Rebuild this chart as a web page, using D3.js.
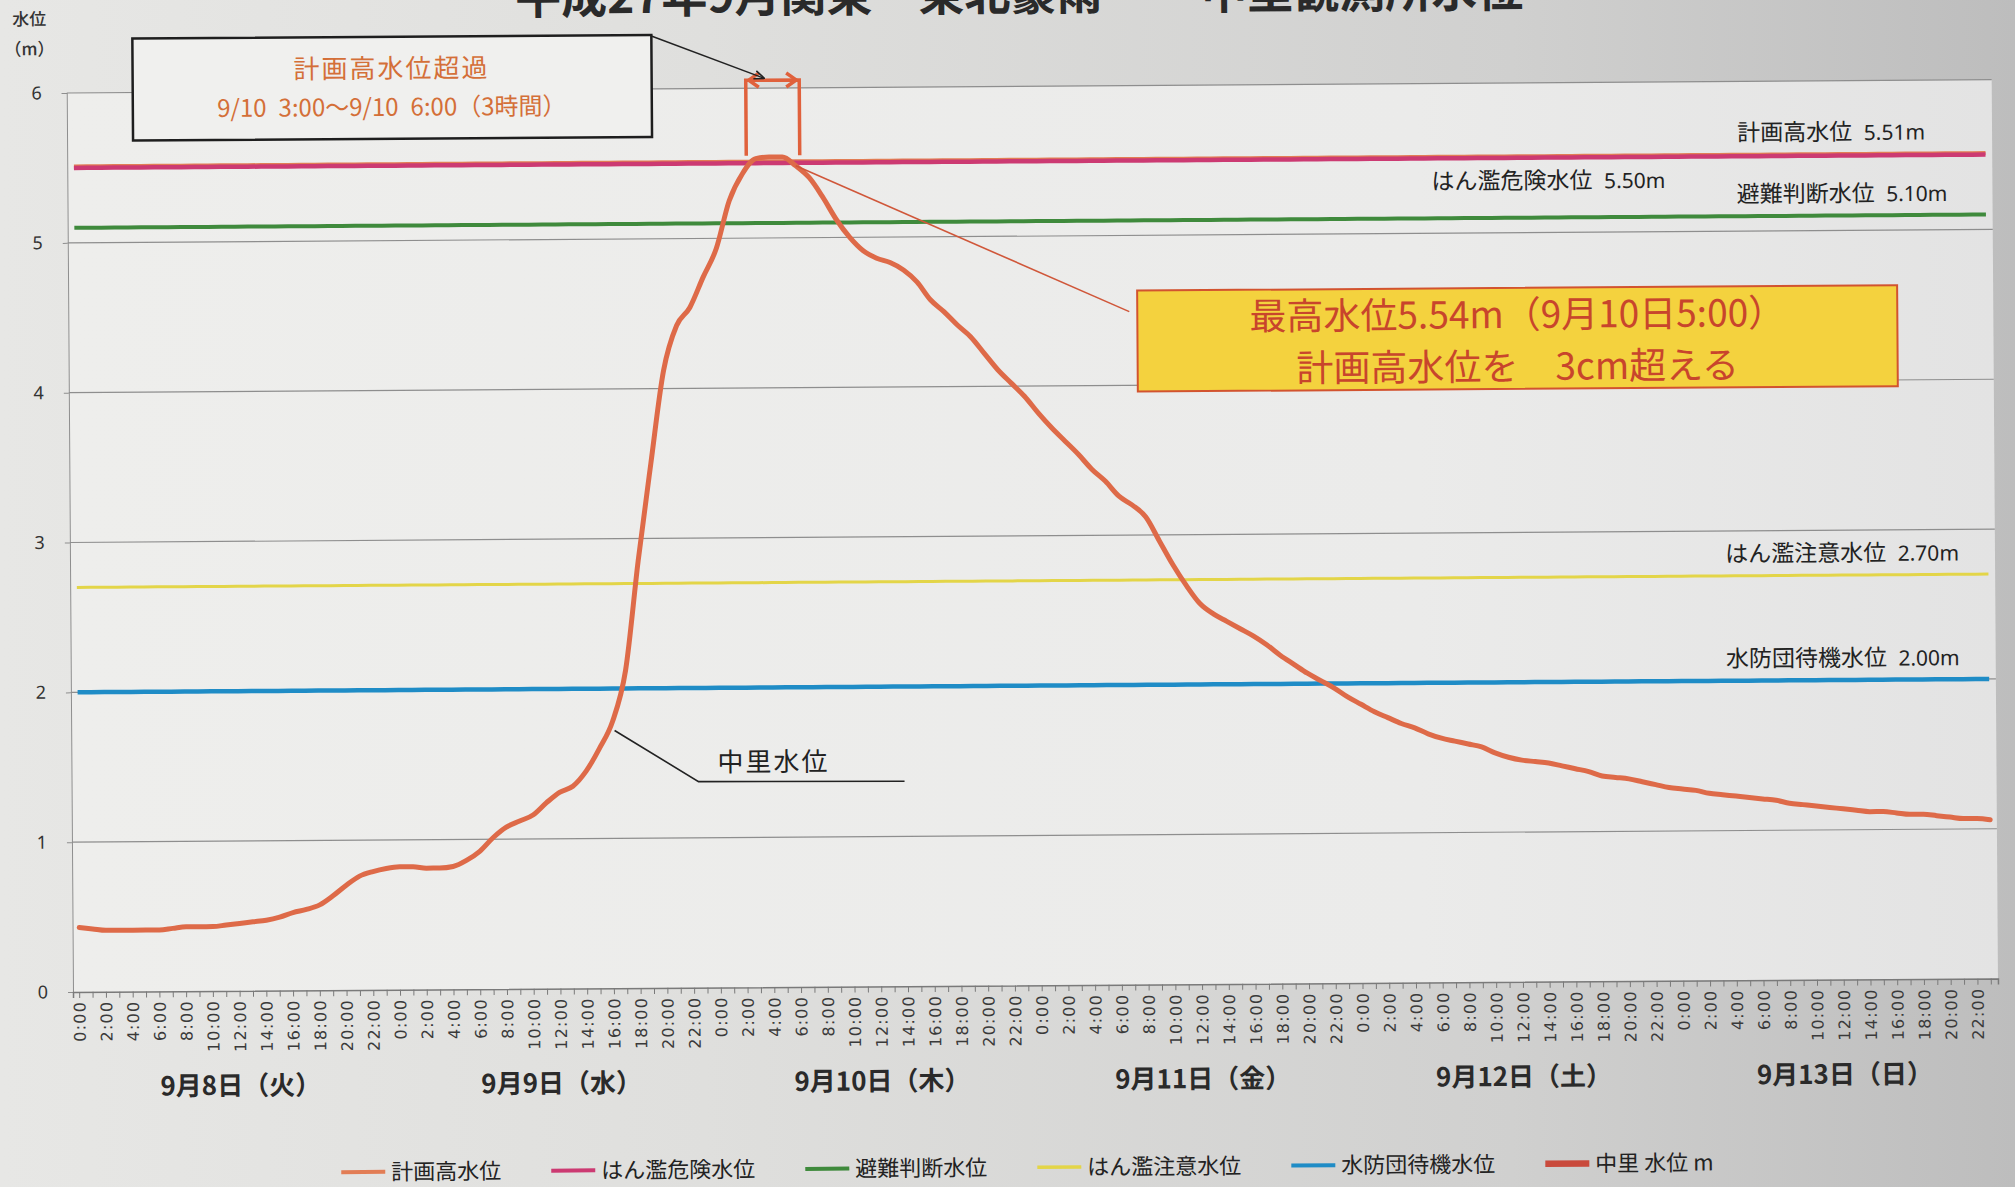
<!DOCTYPE html>
<html lang="ja">
<head>
<meta charset="utf-8">
<title>中里観測所水位</title>
<script src="https://cdn.jsdelivr.net/npm/d3@7"></script>
<style>
  html, body { margin: 0; padding: 0; overflow: hidden; background: #e2e2e0; }
  svg { display: block; }
  text { font-family: "Noto Sans CJK JP", "Noto Sans", sans-serif; }
</style>
</head>
<body>
<svg id="chart" width="2015" height="1187"></svg>
<script>
// categories (hourly, 6 days)
let dayLabels = ["9月8日（火）", "9月9日（水）", "9月10日（木）", "9月11日（金）", "9月12日（土）", "9月13日（日）"]
let hourLabels = ["0:00", "1:00", "2:00", "3:00", "4:00", "5:00", "6:00", "7:00", "8:00", "9:00", "10:00", "11:00",
                  "12:00", "13:00", "14:00", "15:00", "16:00", "17:00", "18:00", "19:00", "20:00", "21:00", "22:00", "23:00"]
let yTicks = [0, 1, 2, 3, 4, 5, 6]

// reference levels
let levelNames = ["計画高水位", "はん濫危険水位", "避難判断水位", "はん濫注意水位", "水防団待機水位"]
let levelValues = [5.51, 5.50, 5.10, 2.70, 2.00]

// observed water level at 中里 (m), hourly from 9/8 0:00
let seriesName = "中里 水位 m"
let nakazatoLevel = [
    0.43, 0.42, 0.41, 0.41, 0.41, 0.41, 0.41, 0.42, 0.43, 0.43, 0.43, 0.44,
    0.45, 0.46, 0.47, 0.49, 0.52, 0.54, 0.57, 0.63, 0.70, 0.76, 0.79, 0.81,
    0.82, 0.82, 0.81, 0.81, 0.82, 0.86, 0.92, 1.01, 1.08, 1.12, 1.16, 1.24,
    1.31, 1.35, 1.45, 1.60, 1.78, 2.12, 2.85, 3.50, 4.12, 4.42, 4.54, 4.74,
    4.93, 5.25, 5.43, 5.53, 5.54, 5.54, 5.48, 5.40, 5.27, 5.12, 5.00, 4.91,
    4.86, 4.83, 4.78, 4.70, 4.58, 4.50, 4.41, 4.33, 4.22, 4.11, 4.02, 3.93,
    3.82, 3.72, 3.63, 3.54, 3.44, 3.36, 3.26, 3.20, 3.12, 2.96, 2.80, 2.66,
    2.54, 2.47, 2.42, 2.37, 2.32, 2.26, 2.19, 2.13, 2.07, 2.02, 1.97, 1.91,
    1.86, 1.81, 1.77, 1.73, 1.70, 1.66, 1.63, 1.61, 1.59, 1.57, 1.53, 1.50,
    1.48, 1.47, 1.46, 1.44, 1.42, 1.40, 1.37, 1.36, 1.35, 1.33, 1.31, 1.29,
    1.28, 1.27, 1.25, 1.24, 1.23, 1.22, 1.21, 1.20, 1.18, 1.17, 1.16, 1.15,
    1.14, 1.13, 1.12, 1.12, 1.11, 1.10, 1.10, 1.09, 1.08, 1.07, 1.07, 1.06
]

// styles
let levelColors = ["#e27d55", "#cc3a72", "#3f8a3c", "#e3d548", "#1f8cc6"]
let levelWidths = [4, 4.5, 4, 3, 4.5]
let seriesColor = "#de6a48"
let legendSeriesColor = "#c94a3c"

let categories = dayLabels.flatMap(d => hourLabels.map(h => d + " " + h))

let svg = d3.select('#chart')
let defs = svg.append('defs')

// scanned paper background
let paper = defs.append('linearGradient').attr('id', 'paper')
    .attr('x1', 0).attr('x2', 1).attr('y1', 0).attr('y2', 0)
paper.append('stop').attr('offset', 0).attr('stop-color', '#e7e7e5')
paper.append('stop').attr('offset', 0.35).attr('stop-color', '#dfdfdd')
paper.append('stop').attr('offset', 0.75).attr('stop-color', '#d0d0cf')
paper.append('stop').attr('offset', 1).attr('stop-color', '#bdbdbd')

let plotFill = defs.append('linearGradient').attr('id', 'plotfill')
    .attr('x1', 0).attr('x2', 1).attr('y1', 0).attr('y2', 0)
plotFill.append('stop').attr('offset', 0).attr('stop-color', '#eeeeec')
plotFill.append('stop').attr('offset', 0.7).attr('stop-color', '#ebebea')
plotFill.append('stop').attr('offset', 1).attr('stop-color', '#e3e3e3')

let arrowHead = defs.append('marker').attr('id', 'arrowhead')
    .attr('viewBox', '0 0 10 10').attr('refX', 9).attr('refY', 5)
    .attr('markerWidth', 7).attr('markerHeight', 7).attr('orient', 'auto')
arrowHead.append('path').attr('d', 'M0,1 L10,5 L0,9').attr('fill', 'none')
    .attr('stroke', '#222').attr('stroke-width', 1.5)

svg.append('rect').attr('width', 2015).attr('height', 1187).attr('fill', 'url(#paper)')

// the scan is slightly tilted
let chart = svg.append('g').attr('transform', 'rotate(-0.4,73,992)')

let x = d3.scaleBand().domain(categories).range([73, 1998])
let xc = (c) => x(c) + x.bandwidth() / 2
let y = d3.scaleLinear().domain([0, 6]).range([992, 93])

chart.append('rect')
    .attr('x', 73).attr('y', y(6))
    .attr('width', 1998 - 73).attr('height', y(0) - y(6))
    .attr('fill', 'url(#plotfill)')

// title (cut off at the top, as in the scan)
chart.append('text').attr('x', 522).attr('y', 17)
    .attr('font-size', 46).attr('font-weight', 700).attr('fill', '#2a2a2a')
    .text("平成27年9月関東・東北豪雨")
chart.append('text').attr('x', 1208).attr('y', 17)
    .attr('font-size', 46).attr('font-weight', 700).attr('fill', '#2a2a2a')
    .text("中里観測所水位")

// gridlines
chart.selectAll('.grid')
    .data(yTicks.filter(d => d > 0))
    .enter()
    .append('line')
    .attr('x1', 73).attr('x2', 1998)
    .attr('y1', d => y(d)).attr('y2', d => y(d))
    .attr('stroke', '#8e8e8e').attr('stroke-width', 1.2)

// y axis
let yAxis = chart.append('g').attr('transform', 'translate(73,0)')
    .call(d3.axisLeft(y).tickValues(yTicks).tickFormat(d3.format('d')).tickSize(5).tickPadding(20))
yAxis.select('.domain').attr('stroke', '#8e8e8e')
yAxis.selectAll('line').attr('stroke', '#8e8e8e')
yAxis.selectAll('text').attr('font-size', 18).attr('fill', '#333')
    .style('font-family', '"Noto Sans", sans-serif')

chart.append('text').attr('x', 36).attr('y', 25).attr('text-anchor', 'middle')
    .attr('font-size', 17).attr('font-weight', 500).attr('fill', '#333').text("水位")
chart.append('text').attr('x', 36).attr('y', 55).attr('text-anchor', 'middle')
    .attr('font-size', 17).attr('font-weight', 500).attr('fill', '#333').text("（m）")

// x axis
let xAxis = chart.append('g').attr('transform', `translate(0,${y(0)})`)
    .call(d3.axisBottom(x).tickSize(6)
        .tickFormat((d, i) => i % 2 === 0 ? d.split(' ')[1] : ''))
xAxis.select('.domain').attr('stroke', '#7a7a7a').attr('stroke-width', 1.5)
xAxis.selectAll('line').attr('stroke', '#7a7a7a')
xAxis.selectAll('text')
    .attr('transform', 'rotate(-90)')
    .attr('text-anchor', 'end')
    .attr('x', -9).attr('y', 0).attr('dy', '0.35em')
    .attr('font-size', 16).attr('letter-spacing', 1.2).attr('fill', '#3a3a3a')
    .style('font-family', '"DejaVu Sans", sans-serif')

// day labels
chart.selectAll('.day')
    .data(dayLabels)
    .enter()
    .append('text')
    .attr('x', (d, i) => xc(categories[i * 24 + 12]))
    .attr('y', 1096)
    .attr('text-anchor', 'middle')
    .attr('font-size', 26).attr('font-weight', 700).attr('fill', '#2a2a2a')
    .text(d => d)

// reference level lines
let line = d3.line().x(d => xc(d[0])).y(d => y(d[1]))
levelValues.forEach((v, i) => {
    chart.append('path')
        .datum(categories.map(c => [c, v]))
        .attr('d', line)
        .attr('fill', 'none')
        .attr('stroke', levelColors[i])
        .attr('stroke-width', levelWidths[i])
})

// reference level labels (right end of each line)
let levelLabelRight = [1931, 1671, 1953, 1962, 1962]
let levelLabelBelow = [false, true, false, false, false]
levelNames.forEach((name, i) => {
    let t = chart.append('text')
        .attr('x', levelLabelRight[i])
        .attr('y', y(levelValues[i]) + (levelLabelBelow[i] ? 31 : -14))
        .attr('text-anchor', 'end').attr('fill', '#222')
    t.append('tspan').attr('font-size', 23).text(name + '\u2002')
    t.append('tspan').attr('font-size', 21).style('font-family', '"Noto Sans", sans-serif')
        .text(levelValues[i].toFixed(2) + 'm')
})

// observed series
let seriesLine = d3.line()
    .x((d, i) => xc(categories[i]))
    .y(d => y(d))
    .curve(d3.curveMonotoneX)
chart.append('path')
    .datum(nakazatoLevel)
    .attr('d', seriesLine)
    .attr('fill', 'none')
    .attr('stroke', seriesColor)
    .attr('stroke-width', 5)
    .attr('stroke-linejoin', 'round')
    .attr('stroke-linecap', 'round')

// exceedance bracket over the peak
let bxL = xc(categories[50]) + 4
let bxR = xc(categories[54]) + 4
let bTop = y(6) - 8
let bBot = y(5.55)
chart.append('path')
    .attr('d', `M${bxL},${bBot} L${bxL},${bTop} L${bxR},${bTop} L${bxR},${bBot}`)
    .attr('fill', 'none').attr('stroke', '#e0613c').attr('stroke-width', 3.5)
chart.append('path')
    .attr('d', `M${bxL + 13},${bTop - 7} L${bxL + 3},${bTop} L${bxL + 13},${bTop + 7}` +
               `M${bxR - 13},${bTop - 7} L${bxR - 3},${bTop} L${bxR - 13},${bTop + 7}`)
    .attr('fill', 'none').attr('stroke', '#e0613c').attr('stroke-width', 3.5)

// exceedance note box
chart.append('rect').attr('x', 139).attr('y', 39).attr('width', 519).attr('height', 102)
    .attr('fill', '#f0f0ee').attr('stroke', '#1e1e1e').attr('stroke-width', 2.5)
chart.append('text').attr('x', 398).attr('y', 80).attr('text-anchor', 'middle')
    .attr('font-size', 26).attr('letter-spacing', 2).attr('fill', '#d46f38')
    .text("計画高水位超過")
chart.append('text').attr('x', 398).attr('y', 118).attr('text-anchor', 'middle')
    .attr('font-size', 24).attr('fill', '#d46f38')
    .text("9/10\u20023:00～9/10\u20026:00（3時間）")
chart.append('line')
    .attr('x1', 658).attr('y1', 40).attr('x2', bxL + 18).attr('y2', bTop - 2)
    .attr('stroke', '#222').attr('stroke-width', 1.5)
    .attr('marker-end', 'url(#arrowhead)')

// max level callout
chart.append('line')
    .attr('x1', xc(categories[54])).attr('y1', y(5.48))
    .attr('x2', 1134).attr('y2', 319)
    .attr('stroke', '#d0573a').attr('stroke-width', 1.6)
chart.append('rect').attr('x', 1142).attr('y', 298).attr('width', 760).attr('height', 101)
    .attr('fill', '#f4d23e').attr('stroke', '#d2532f').attr('stroke-width', 2)
chart.append('text').attr('x', 1522).attr('y', 338).attr('text-anchor', 'middle')
    .attr('font-size', 37).attr('fill', '#c8452c')
    .text("最高水位5.54m（9月10日5:00）")
chart.append('text').attr('x', 1522).attr('y', 390).attr('text-anchor', 'middle')
    .attr('font-size', 37).attr('fill', '#c8452c')
    .text("計画高水位を\u30003cm超える")

// series callout
chart.append('path')
    .attr('d', `M${xc(categories[40]) + 2},${y(1.72)} L700,786 L906,787`)
    .attr('fill', 'none').attr('stroke', '#222').attr('stroke-width', 1.6)
chart.append('text').attr('x', 775).attr('y', 776).attr('text-anchor', 'middle')
    .attr('font-size', 26).attr('letter-spacing', 2).attr('fill', '#222')
    .text("中里水位")

// legend
let legendNames = levelNames.concat([seriesName])
let legendColors = levelColors.concat([legendSeriesColor])
let legendWidths = [4, 4, 4, 3.5, 4, 6.5]
let lx = 340
legendNames.forEach((name, i) => {
    let item = chart.append('g').attr('transform', `translate(${lx},1174)`)
    item.append('line').attr('x1', 0).attr('x2', 44).attr('y1', 0).attr('y2', 0)
        .attr('stroke', legendColors[i]).attr('stroke-width', legendWidths[i])
    let t = item.append('text').attr('x', 50).attr('dy', '0.36em')
        .attr('font-size', 22).attr('fill', '#222').text(name)
    lx += 50 + t.node().getComputedTextLength() + 50
})
</script>
</body>
</html>
